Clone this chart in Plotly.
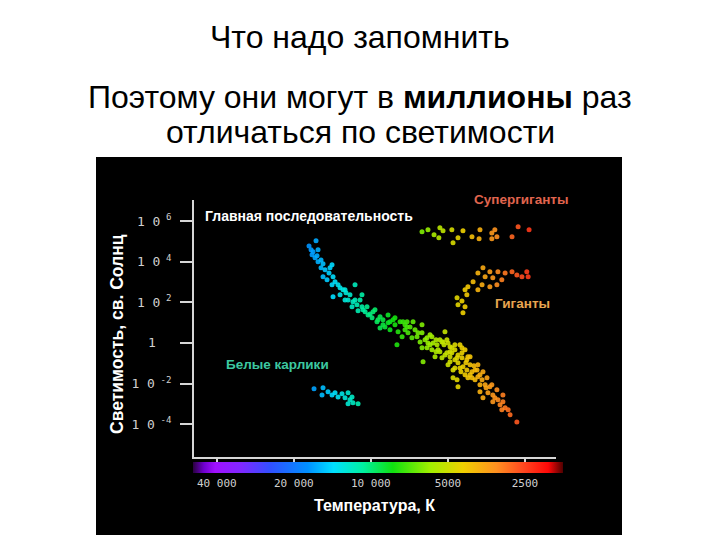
import numpy as np
import plotly.graph_objects as go

# page is 720x540; the browser body adds an 8px margin, so the figure itself
# is 712x532 and every page-pixel position is shifted by that offset
PAGE_OFF = 8
W, H = 720 - PAGE_OFF, 540 - PAGE_OFF

# ---------------- data (temperature, K ; log10 luminosity, L_sun) ----------------
ms_T = [16410, 17480, 17160, 16860, 17010, 16560, 16260, 16120, 15690, 15410,
        14210, 15690, 15130, 14600, 15410, 14080, 14860, 13830, 14210, 13460,
        11550, 13220, 12870, 14080, 12530, 12090, 10850, 12640, 11770, 11350,
        10850, 10370, 11870, 11240, 10550, 10090, 9650, 9910, 9220, 8980,
        8430, 7700, 7230, 9820, 9480, 8980, 9220, 8580, 8430, 8060,
        7840, 7500, 7230, 7560, 7920, 7170, 6850, 6730, 6920, 6610,
        6320, 6320, 6430, 6150, 5990, 6320, 6260, 5780, 5720, 5780,
        5520, 5470, 5620, 5280, 5140, 5050, 5280, 4910, 4830, 4910,
        4700, 4610, 4570, 4490, 4410, 4290, 4220, 4370, 4780, 4100,
        4030, 4290, 3920, 4610, 5230, 5000, 4830, 5140, 4910, 4410,
        4180, 5000, 4700, 4780, 4220, 3850, 3820, 4030, 4570, 3650,
        3680, 3520, 3580, 3750, 3430, 3490, 3340, 3220, 3190, 3650,
        3340, 3050, 2990, 3080, 2910, 2690, 5880, 6040, 5570, 5380,
        5050, 4700, 4490, 4100, 3920, 3750, 8580, 8060, 7365, 7040,
        12640, 13220, 11550, 10750, 14470, 16120, 12300, 11040, 10270, 9390,
        8820, 8200, 7365, 6550, 6040, 5880, 5570, 5380, 5185, 4910,
        4700, 4570, 4410, 4255, 4100, 3960, 3820, 4450, 4180, 3750,
        3550, 3370, 3280, 3130, 2860, 3050]
ms_lgL = [5.03, 4.78, 4.59, 4.49, 4.34, 4.19, 4.29, 4.00, 4.09, 3.90,
          3.85, 3.70, 3.60, 3.45, 3.26, 3.26, 3.11, 3.01, 2.86, 2.86,
          2.86, 2.72, 2.62, 2.27, 2.47, 2.37, 2.37, 2.12, 2.03, 1.88,
          1.78, 1.78, 1.78, 1.58, 1.53, 1.43, 1.63, 1.24, 1.29, 1.14,
          1.04, 1.04, 1.04, 1.53, 1.04, 0.89, 0.74, 0.99, 0.65, 0.89,
          0.55, 1.04, 0.79, 0.30, -0.09, 0.50, 1.04, 0.65, 0.25, 0.30,
          0.89, 0.50, 0.05, 0.15, 0.00, -0.24, -0.93, 0.30, 0.00, -0.34,
          -0.09, -0.34, -0.68, 0.05, 0.55, -0.49, -0.73, -0.19, -0.49, -0.93,
          -0.34, -0.73, -0.98, -0.09, -0.49, -0.34, -0.83, -1.18, -1.33, -1.08,
          -1.42, -1.57, -1.82, -1.82, 0.05, 0.00, -0.24, -0.59, -0.68, -0.73,
          -0.68, -1.08, -1.23, -1.72, -1.33, -1.33, -1.67, -1.72, -2.16, -1.42,
          -1.82, -1.72, -2.06, -2.41, -2.16, -2.46, -2.56, -2.31, -2.80, -2.70,
          -2.90, -2.90, -3.20, -3.29, -3.29, -3.89, 0.40, -0.24, 0.15, -0.44,
          0.15, -0.83, -1.23, -1.57, -1.33, -2.06, 1.38, 1.24, 0.65, 0.79,
          2.62, 2.37, 2.12, 1.63, 3.70, 4.59, 2.12, 2.12, 1.38, 1.14,
          0.79, 1.14, 0.89, 0.50, 0.25, -0.09, -0.44, 0.15, -0.09, -0.44,
          -0.09, -0.59, -0.24, -0.98, -0.68, -1.13, -1.08, -1.42, -1.72, -1.57,
          -2.21, -2.06, -2.70, -3.05, -3.54, -2.56]

wd_T = [16710, 15410, 15550, 14730, 14210, 13830, 13460, 12990, 12300, 12640,
        12090, 11770, 12300, 11240, 11870]
wd_lgL = [-2.26, -2.21, -2.56, -2.41, -2.56, -2.46, -2.66, -2.51, -2.46, -2.70,
          -2.80, -2.95, -3.00, -3.00, -2.66]

gi_T = [3650, 3430, 3820, 3190, 2990, 2810, 2690, 2570, 2460, 2430,
        3580, 3340, 3080, 3990, 3680, 3430, 3220, 4180, 3820, 4290,
        4220, 4610, 4410, 4570, 4290, 4370]
gi_lgL = [3.70, 3.50, 3.45, 3.50, 3.45, 3.50, 3.35, 3.26, 3.50, 3.26,
          3.26, 3.21, 3.11, 3.01, 2.86, 2.77, 2.86, 2.77, 2.62, 2.62,
          2.37, 2.22, 2.07, 1.88, 1.78, 1.48]

sg_T = [6320, 5990, 5670, 5380, 5230, 5430, 4830, 4780, 4570, 4370,
        4030, 3750, 3780, 3370, 3280, 3220, 3370, 2810, 2660, 2410]
sg_lgL = [5.47, 5.57, 5.33, 5.67, 5.52, 5.18, 5.57, 4.93, 5.18, 5.52,
          5.23, 5.57, 5.13, 5.42, 5.57, 5.23, 5.13, 5.23, 5.72, 5.57]

x_tick_T = [40000, 20000, 10000, 5000, 2500]
x_tick_text = ["40 000", "20 000", "10 000", "5000", "2500"]
y_tick_L = [1e6, 1e4, 1e2, 1, 1e-2, 1e-4]
y_tick_text = ["1 0<sup> 6</sup>", "1 0<sup> 4</sup>", "1 0<sup> 2</sup>",
               "1\u2007\u2007", "1 0<sup> -2</sup>", "1 0<sup> -4</sup>"]

# ---------------- layout helpers (page pixel -> paper fraction) ----------------
def fx(px):
    return (px - PAGE_OFF) / W

def fy(py):
    return 1 - (py - PAGE_OFF) / H

colorscale = [[0.00, '#2a0040'], [0.03, '#7000d0'], [0.06, '#a010ff'], [0.13, '#8028ff'],
              [0.21, '#3050ff'], [0.31, '#0090ff'], [0.38, '#00e0ff'], [0.46, '#00f0a0'],
              [0.54, '#10e010'], [0.64, '#a0f000'], [0.73, '#f0d000'], [0.82, '#ff9020'],
              [0.89, '#ff4a20'], [0.96, '#ff0808'], [1.00, '#500000']]

fig = go.Figure()
for T, lg in [(ms_T, ms_lgL), (wd_T, wd_lgL), (gi_T, gi_lgL), (sg_T, sg_lgL)]:
    fig.add_trace(go.Scatter(
        x=T, y=[10 ** v for v in lg], mode='markers',
        marker=dict(size=5, color=[-np.log10(t) for t in T], coloraxis='coloraxis',
                    line_width=0, opacity=0.9),
        showlegend=False, hoverinfo='skip'))

axis_col = '#d6d6d6'
tick_font = dict(family='DejaVu Sans Mono', size=11, color='#d0d0d0')
ytick_font = dict(family='DejaVu Sans Mono', size=13, color='#d0d0d0')

fig.update_layout(
    width=W, height=H, margin=dict(l=0, r=0, t=0, b=0),
    paper_bgcolor='white', plot_bgcolor='rgba(0,0,0,0)',
    xaxis=dict(type='log', range=[np.log10(49240), np.log10(1891)],
               domain=[fx(194), fx(556)], showgrid=False, zeroline=False,
               showline=True, linecolor=axis_col, linewidth=2,
               ticks='outside', ticklen=7, tickwidth=2, tickcolor=axis_col,
               tickvals=x_tick_T, showticklabels=False),
    yaxis=dict(type='log', range=[-5.62, 7.04],
               domain=[fy(457), fy(200)], showgrid=False, zeroline=False,
               showline=True, linecolor=axis_col, linewidth=2,
               ticks='outside', ticklen=12, tickwidth=2, tickcolor=axis_col,
               tickvals=y_tick_L, ticktext=y_tick_text, tickfont=ytick_font,
               ticklabelstandoff=6),
    coloraxis=dict(
        cmin=-np.log10(49540), cmax=-np.log10(1775), colorscale=colorscale,
        colorbar=dict(orientation='h', x=fx(378), xanchor='center',
                      y=fy(462), yanchor='top', len=370, lenmode='pixels',
                      thickness=11, xpad=0, ypad=0, outlinewidth=0,
                      tickvals=[-np.log10(t) for t in x_tick_T], ticktext=x_tick_text,
                      ticks='', tickfont=tick_font)),
    shapes=[dict(type='rect', xref='paper', yref='paper', x0=fx(96), x1=fx(622),
                 y0=fy(535), y1=fy(157), fillcolor='black', line_width=0, layer='below')],
)

def ann(text, x, y, size, color, bold=False, family='Liberation Sans', angle=0):
    fig.add_annotation(text=f"<b>{text}</b>" if bold else text, x=fx(x), y=fy(y),
                       xref='paper', yref='paper', xanchor='center', yanchor='middle',
                       showarrow=False, textangle=angle,
                       font=dict(family=family, size=size, color=color))

ann("Что надо запомнить", 360, 37, 32, 'black')
ann("Поэтому они могут в <b>миллионы</b> раз", 360, 97, 32, 'black')
ann("отличаться по светимости", 360, 132, 32, 'black')

ann("Главная последовательность", 309, 216, 14, 'white', bold=True)
ann("Супергиганты", 521, 199, 13.5, '#e0654e', bold=True)
ann("Гиганты", 522, 303, 13.5, '#e8a550', bold=True)
ann("Белые карлики", 277, 364, 13.5, '#3cc8a0', bold=True)
ann("Светимость, св. Солнц", 117, 334, 17.5, 'white', bold=True, angle=-90)
ann("Температура, К", 374, 505, 16, 'white', bold=True)

fig.write_html("out.html")
